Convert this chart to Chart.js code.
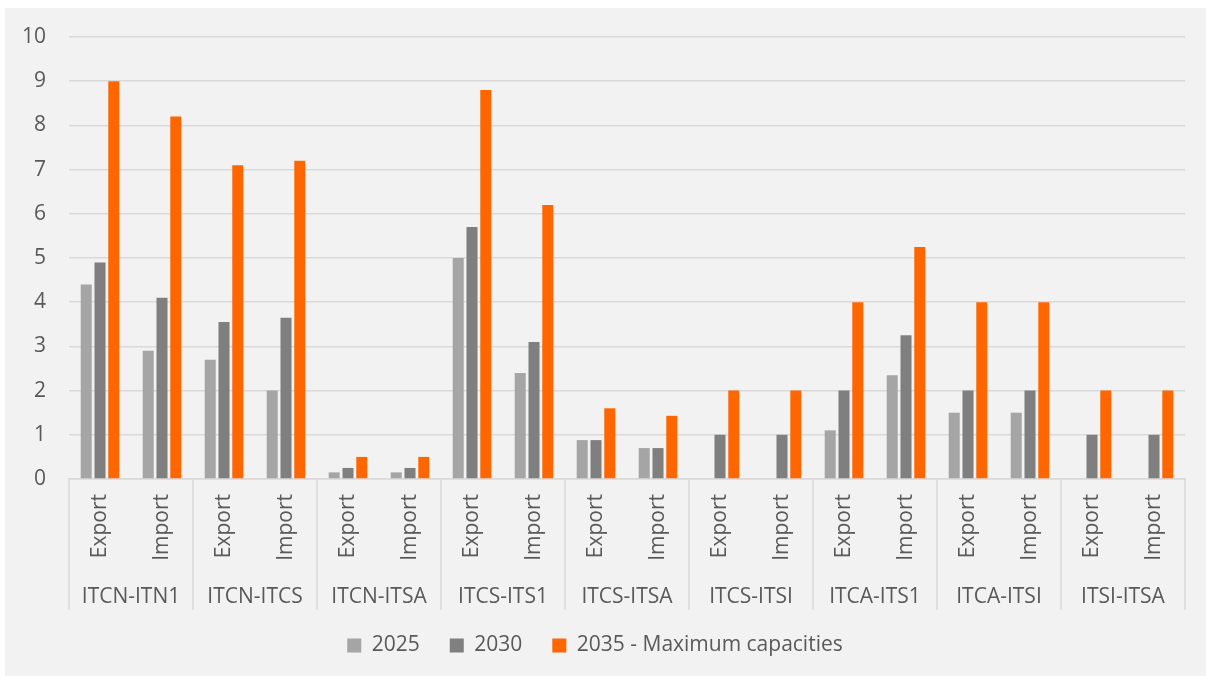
<!DOCTYPE html>
<html>
<head>
<meta charset="utf-8">
<script src="https://cdn.jsdelivr.net/npm/chart.js@4/dist/chart.umd.min.js"></script>
<style>
    html, body { margin: 0; padding: 0; background: #ffffff; }
    #wrap { position: absolute; left: 5px; top: 8px; width: 1201px; height: 668px; background: #f2f2f2; }
</style>
</head>
<body>
<div id="wrap"><canvas id="capChart"></canvas></div>
<script>
// 数据
const groups = ['ITCN-ITN1', 'ITCN-ITCS', 'ITCN-ITSA', 'ITCS-ITS1', 'ITCS-ITSA', 'ITCS-ITSI', 'ITCA-ITS1', 'ITCA-ITSI', 'ITSI-ITSA'];
const directions = ['Export', 'Import'];
const labels = groups.flatMap(() => directions);

const v2025 = [4.4, 2.9, 2.7, 2.0, 0.15, 0.15, 5.0, 2.4, 0.88, 0.7, null, null, 1.1, 2.35, 1.5, 1.5, null, null];
const v2030 = [4.9, 4.1, 3.55, 3.65, 0.25, 0.25, 5.7, 3.1, 0.88, 0.7, 1.0, 1.0, 2.0, 3.25, 2.0, 2.0, 1.0, 1.0];
const v2035 = [9.0, 8.2, 7.1, 7.2, 0.5, 0.5, 8.8, 6.2, 1.6, 1.43, 2.0, 2.0, 4.0, 5.25, 4.0, 4.0, 2.0, 2.0];

const textColor = '#595959';
const gridColor = '#d9d9d9';
const fontFamily = '"Open Sans", sans-serif';

// 分组分隔线
const groupSeparators = {
    id: 'groupSeparators',
    afterDraw(chart) {
        const x = chart.scales.x;
        const x2 = chart.scales.x2;
        const ctx = chart.ctx;
        const top = chart.chartArea.bottom;
        const bottom = x2.top + 46;
        const xs = [chart.chartArea.left];
        for (let i = 2; i < labels.length; i += 2) {
            xs.push((x.getPixelForTick(i - 1) + x.getPixelForTick(i)) / 2);
        }
        xs.push(chart.chartArea.right);
        ctx.save();
        ctx.strokeStyle = gridColor;
        ctx.lineWidth = 1.5;
        xs.forEach(px => {
            ctx.beginPath();
            ctx.moveTo(px, top);
            ctx.lineTo(px, bottom);
            ctx.stroke();
        });
        ctx.restore();
    }
};

function noPad(scale) {
    scale.paddingTop = 0;
    scale.paddingBottom = 0;
    scale.paddingLeft = 0;
    scale.paddingRight = 0;
}

new Chart(document.getElementById('capChart'), {
    type: 'bar',
    data: {
        labels: labels,
        datasets: [{
            label: '2025',
            data: v2025,
            backgroundColor: '#a5a5a5',
            categoryPercentage: 0.667,
            barPercentage: 0.8
        }, {
            label: '2030',
            data: v2030,
            backgroundColor: '#7f7f7f',
            categoryPercentage: 0.667,
            barPercentage: 0.8
        }, {
            label: '2035 - Maximum capacities',
            data: v2035,
            backgroundColor: '#ff6600',
            categoryPercentage: 0.667,
            barPercentage: 0.8
        }]
    },
    options: {
        responsive: true,
        maintainAspectRatio: false,
        animation: false,
        layout: {
            padding: { top: 29, right: 21, bottom: 10, left: 0 }
        },
        plugins: {
            legend: {
                position: 'bottom',
                labels: {
                    color: textColor,
                    boxWidth: 14,
                    boxHeight: 14,
                    padding: 30,
                    font: { family: fontFamily, size: 21 }
                }
            },
            tooltip: { enabled: false }
        },
        scales: {
            x: {
                grid: { display: false, drawTicks: false },
                border: { display: true, color: gridColor, width: 1.5 },
                ticks: {
                    color: textColor,
                    minRotation: 90,
                    maxRotation: 90,
                    padding: 15,
                    autoSkip: false,
                    font: { family: fontFamily, size: 21 }
                },
                afterFit(scale) { scale.height = 85; noPad(scale); }
            },
            x2: {
                type: 'category',
                labels: groups,
                position: 'bottom',
                grid: { display: false, drawTicks: false },
                border: { display: false },
                ticks: {
                    color: textColor,
                    padding: 20,
                    autoSkip: false,
                    maxRotation: 0,
                    font: { family: fontFamily, size: 21 }
                },
                afterFit(scale) { scale.height = 41; noPad(scale); }
            },
            y: {
                min: 0,
                max: 10,
                grid: { color: gridColor, lineWidth: 1.5, drawTicks: false },
                border: { display: false },
                ticks: {
                    stepSize: 1,
                    color: textColor,
                    padding: 23,
                    font: { family: fontFamily, size: 21 }
                },
                afterFit(scale) { scale.width = 64; noPad(scale); }
            }
        }
    },
    plugins: [groupSeparators]
});
</script>
</body>
</html>
